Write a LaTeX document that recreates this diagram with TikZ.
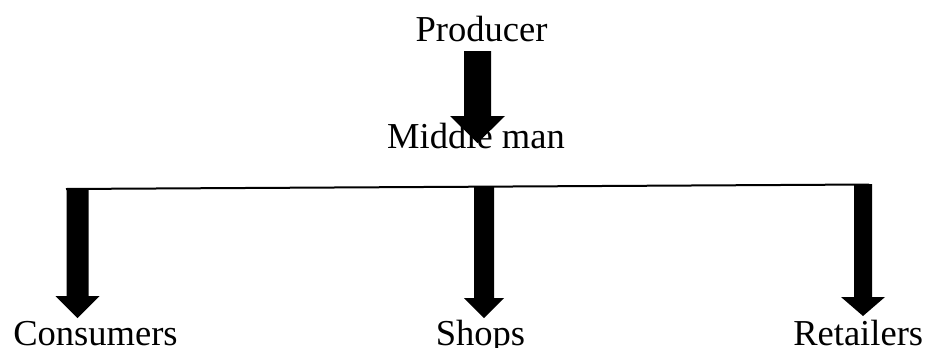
\documentclass[tikz,border=0pt]{standalone}
\usepackage{fontspec}
\setmainfont{Liberation Serif}
\usetikzlibrary{calc}
% block arrow pointing down: #1 top coordinate, #2 tip coordinate,
% #3 half shaft width, #4 half head width, #5 head length (all in px units)
\newcommand{\blockdown}[5]{%
  \fill let \p1=(#1), \p2=(#2) in
    ($(\x1,\y1)+(-#3,0)$) -- ($(\x1,\y1)+(#3,0)$) --
    ($(\x1,\y2)+(#3,#5)$) -- ($(\x1,\y2)+(#4,#5)$) --
    (\x1,\y2) --
    ($(\x1,\y2)+(-#4,#5)$) -- ($(\x1,\y2)+(-#3,#5)$) -- cycle;}
\begin{document}
\begin{tikzpicture}[x=0.75pt,y=-0.75pt,
  lbl/.style={inner sep=0pt,font=\fontsize{27.4}{30}\selectfont}]
\useasboundingbox (0,0) rectangle (925,347);
% labels, placed by their baselines
\node[lbl,anchor=base] (producer) at (481.5,41) {Producer};
\node[lbl,anchor=base] (middle) at (476,148) {Middle man};
\node[lbl,anchor=base west] (consumers) at (13,345) {Consumers};
\node[lbl,anchor=base] (shops) at (480.5,345) {Shops};
\node[lbl,anchor=base west] (retailers) at (793,345) {Retailers};
% arrow end points
\coordinate (ptop) at (477.5,51);
\coordinate (ptip) at (477.5,143);
\coordinate (lineL) at (66,189);
\coordinate (lineR) at (869,184.5);
\coordinate (ctop) at (77.5,188);
\coordinate (ctip) at (77.5,318);
\coordinate (stop) at (484,186);
\coordinate (stip) at (484,318);
\coordinate (rtop) at (863,184);
\coordinate (rtip) at (863,316);
% producer to middle man
\blockdown{ptop}{ptip}{13.5}{27.5}{-27}
% distribution bar
\draw[line width=1.5pt] (lineL) -- (lineR);
% branches
\blockdown{ctop}{ctip}{11}{22}{-22}
\blockdown{stop}{stip}{10}{20}{-20}
\blockdown{rtop}{rtip}{9}{22}{-19}
\end{tikzpicture}
\end{document}
